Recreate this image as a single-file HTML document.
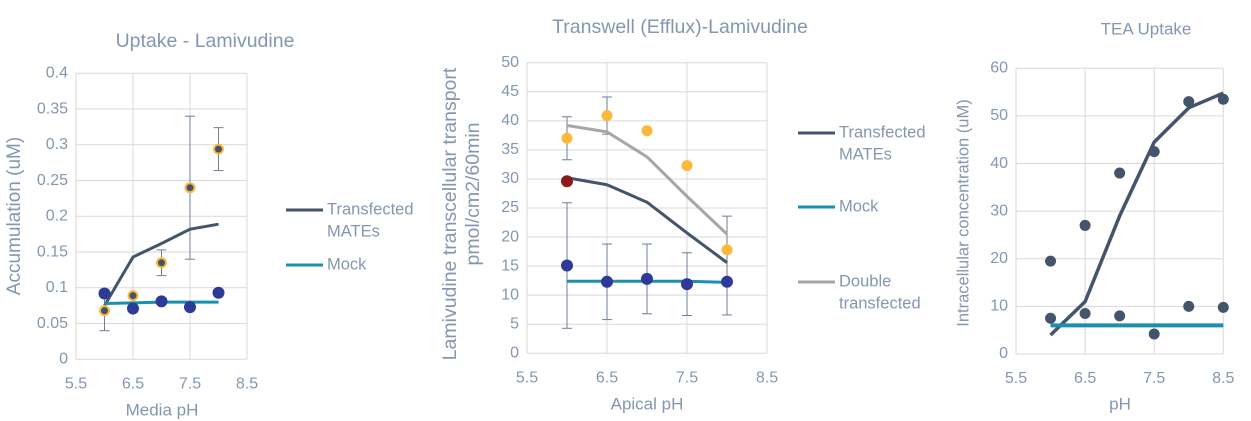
<!DOCTYPE html>
<html><head><meta charset="utf-8">
<style>
html,body{margin:0;padding:0;background:#fff;}
svg{display:block;font-family:"Liberation Sans",sans-serif;}
</style></head>
<body>
<svg id="c" width="1251" height="421" viewBox="0 0 1251 421" xmlns="http://www.w3.org/2000/svg"></svg>
<script>
// ---- Chart 1: Uptake - Lamivudine ----
const c1X = [6, 6.5, 7, 7.5, 8];
const c1TransLine = [0.075, 0.143, 0.162, 0.182, 0.189];
const c1MockLine = [0.078, 0.079, 0.080, 0.080, 0.080];
const c1TransPts = [0.068, 0.089, 0.135, 0.240, 0.294];
const c1TransErr = [0.028, 0, 0.018, 0.100, 0.030];
const c1MockPts = [0.092, 0.071, 0.081, 0.073, 0.093];
const c1YTicks = ["0", "0.05", "0.1", "0.15", "0.2", "0.25", "0.3", "0.35", "0.4"];
const c1XTicks = ["5.5", "6.5", "7.5", "8.5"];
// ---- Chart 2: Transwell (Efflux)-Lamivudine ----
const c2X = [6, 6.5, 7, 7.5, 8];
const c2TransLine = [30.2, 29.0, 26.0, 20.7, 15.6];
const c2DoubleLine = [39.2, 38.1, 33.8, 27.0, 20.5];
const c2MockLine = [12.4, 12.4, 12.4, 12.4, 12.2];
const c2DoublePts = [37.0, 40.9, 38.3, 32.3, 17.8];
const c2DoubleErr = [3.7, 3.2, 0, 0, 5.8];
const c2MockPts = [15.1, 12.3, 12.8, 11.9, 12.3];
const c2MockErr = [10.8, 6.5, 6.0, 5.4, 5.7];
const c2TransPts = [29.6];
const c2YTicks = ["0","5","10","15","20","25","30","35","40","45","50"];
const c2XTicks = ["5.5", "6.5", "7.5", "8.5"];
// ---- Chart 3: TEA Uptake ----
const c3X = [6, 6.5, 7, 7.5, 8, 8.5];
const c3TransLine = [4, 11, 29, 44.5, 51.7, 54.8];
const c3MockLine = [6, 6, 6, 6, 6, 6];
const c3HighPts = [19.5, 27, 38, 42.5, 53, 53.5];
const c3LowPts = [7.5, 8.5, 8, 4.2, 10, 9.8];
const c3YTicks = ["0","10","20","30","40","50","60"];
const c3XTicks = ["5.5", "6.5", "7.5", "8.5"];

const NS = "http://www.w3.org/2000/svg";
const svg = document.getElementById('c');
const TXT = "#8497b0", GRID = "#d9d9d9", DARK = "#44546a", TEAL = "#1a8fb0", BLUE = "#2e3a97", ORANGE = "#fbb93b", GREY = "#a6a6a6";
function el(tag, attrs, parent){
  const e = document.createElementNS(NS, tag);
  for (const k in attrs) e.setAttribute(k, attrs[k]);
  (parent||svg).appendChild(e);
  return e;
}
function text(str, x, y, size, anchor, rot){
  const t = el('text', {x:x, y:y, 'font-size':size, fill:TXT, 'text-anchor':anchor||'middle', 'dominant-baseline':'middle'});
  if (rot) t.setAttribute('transform', 'rotate(-90 '+x+' '+y+')');
  t.textContent = str;
  return t;
}
function makeAxes(L, R, T, B, xmin, xmax, ymax){
  return {
    x: v => L + (v - xmin) / (xmax - xmin) * (R - L),
    y: v => B - v / ymax * (B - T)
  };
}
function frame(ax, L, R, T, B, yTicks, xTicks){
  const g = el('g', {});
  
  
  yTicks.forEach(t => {
    const yy = ax.y(parseFloat(t));
    el('line', {x1:L, x2:R, y1:yy, y2:yy, stroke:GRID, 'stroke-width':1}, g);
    const lb = text(t, L - 8, yy, 16, 'end');
    
    
  });
  xTicks.forEach(t => {
    const xx = ax.x(parseFloat(t));
    el('line', {x1:xx, x2:xx, y1:T, y2:B, stroke:GRID, 'stroke-width':1}, g);
    const lb = text(t, xx, B + 25, 16, 'middle');
    
    
  });
}
function line(ax, xs, ys, color, w, name){
  const p = el('polyline', {points: xs.map((x,i)=>ax.x(x)+','+ax.y(ys[i])).join(' '), fill:'none', stroke:color, 'stroke-width':w, 'stroke-linejoin':'round'});
  
  
}
function errs(ax, xs, ys, es, name){
  xs.forEach((x,i) => {
    if (!es[i]) return;
    const g = el('g', {stroke:'#6f7f95', 'stroke-width':1});
    
    
    const xx = ax.x(x), y1 = ax.y(ys[i]+es[i]), y2 = ax.y(ys[i]-es[i]);
    el('line', {x1:xx, x2:xx, y1:y1, y2:y2}, g);
    el('line', {x1:xx-5, x2:xx+5, y1:y1, y2:y1}, g);
    el('line', {x1:xx-5, x2:xx+5, y1:y2, y2:y2}, g);
  });
}
function dots(ax, xs, ys, fill, r, name, stroke){
  ys.forEach((v,i) => {
    const c = el('circle', {cx:ax.x(xs[i]), cy:ax.y(v), r:r, fill:fill});
    if (stroke) { c.setAttribute('stroke', stroke); c.setAttribute('stroke-width', 2); }
    
    
  });
}
function legend(x, y, color, lines, name){
  const g = el('g', {});
  
  
  el('line', {x1:x, x2:x+37, y1:y, y2:y, stroke:color, 'stroke-width':3}, g);
  lines.forEach((s,i) => { const t = text(s, x+41, y + i*22, 16.5, 'start'); g.appendChild(t); });
}

// Chart 1
{
  const L=76,R=247,T=73.3,B=359.3;
  const ax = makeAxes(L,R,T,B,5.5,8.5,0.4);
  frame(ax,L,R,T,B,c1YTicks,c1XTicks);
  let t = text("Uptake - Lamivudine", 205, 42, 19.5);  
  t = text("Accumulation (uM)", 15, 216, 19, 'middle', true);  
  t = text("Media pH", 162, 411, 17);  
  errs(ax, c1X, c1TransPts, c1TransErr, 'chart1-error-bar');
  line(ax, c1X, c1TransLine, DARK, 3, 'chart1-transfected-line');
  line(ax, c1X, c1MockLine, TEAL, 3, 'chart1-mock-line');
  dots(ax, c1X, c1MockPts, BLUE, 6, 'chart1-mock-point');
  dots(ax, c1X, c1TransPts, DARK, 4.5, 'chart1-transfected-point', ORANGE);
  legend(286, 210, DARK, ["Transfected","MATEs"], 'chart1-legend-transfected');
  legend(286, 265, TEAL, ["Mock"], 'chart1-legend-mock');
}
// Chart 2
{
  const L=527,R=767,T=62.7,B=353.3;
  const ax = makeAxes(L,R,T,B,5.5,8.5,50);
  frame(ax,L,R,T,B,c2YTicks,c2XTicks);
  let t = text("Transwell (Efflux)-Lamivudine", 680, 28, 19.5);  
  t = text("Lamivudine transcellular transport", 451, 214, 19.5, 'middle', true);  
  t = text("pmol/cm2/60min", 474, 194, 19.5, 'middle', true);  
  t = text("Apical pH", 647, 405, 17);  
  errs(ax, c2X, c2DoublePts, c2DoubleErr, 'chart2-double-error-bar');
  errs(ax, c2X, c2MockPts, c2MockErr, 'chart2-mock-error-bar');
  line(ax, c2X, c2DoubleLine, GREY, 3, 'chart2-double-line');
  line(ax, c2X, c2TransLine, DARK, 3, 'chart2-transfected-line');
  line(ax, c2X, c2MockLine, TEAL, 3, 'chart2-mock-line');
  dots(ax, c2X, c2DoublePts, ORANGE, 5.5, 'chart2-double-point');
  dots(ax, c2X, c2MockPts, BLUE, 6, 'chart2-mock-point');
  dots(ax, c2X, c2TransPts, "#8b1a1a", 6, 'chart2-transfected-point');
  legend(798, 133, DARK, ["Transfected","MATEs"], 'chart2-legend-transfected');
  legend(798, 207, TEAL, ["Mock"], 'chart2-legend-mock');
  legend(798, 282, GREY, ["Double","transfected"], 'chart2-legend-double');
}
// Chart 3
{
  const L=1016,R=1223.3,T=68.3,B=354;
  const ax = makeAxes(L,R,T,B,5.5,8.5,60);
  frame(ax,L,R,T,B,c3YTicks,c3XTicks);
  let t = text("TEA Uptake", 1146, 30, 17);  
  t = text("Intracellular concentration (uM)", 964, 213, 16.5, 'middle', true);  
  t = text("pH", 1120, 405, 17);  
  line(ax, c3X, c3TransLine, DARK, 3.5, 'chart3-transfected-line');
  line(ax, c3X, c3MockLine, TEAL, 4, 'chart3-mock-line');
  dots(ax, c3X, c3HighPts, DARK, 5.5, 'chart3-high-point');
  dots(ax, c3X, c3LowPts, DARK, 5.5, 'chart3-low-point');
}
</script>
</body></html>
